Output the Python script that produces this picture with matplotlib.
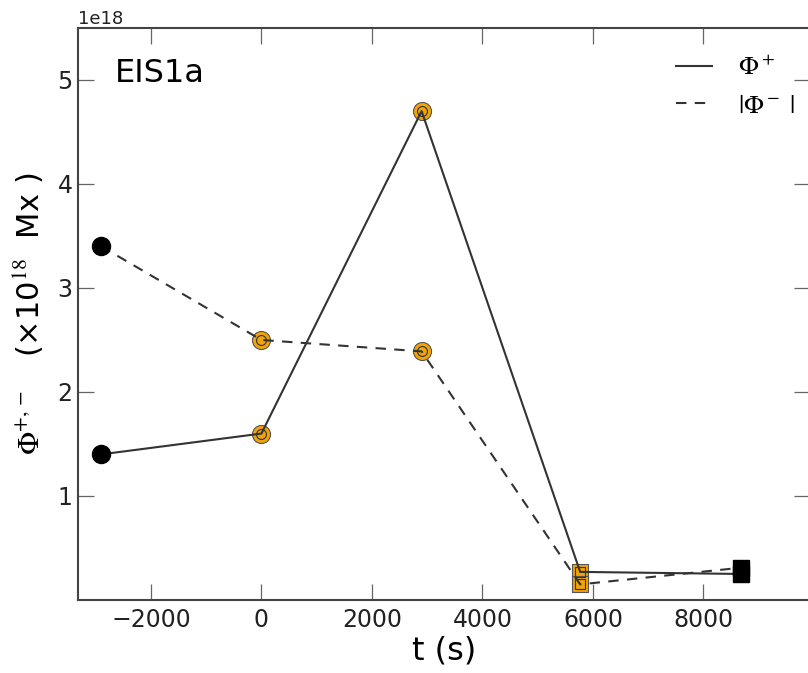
import matplotlib
matplotlib.use("Agg")
import matplotlib.pyplot as plt

# flux time series for EIS1a
t_sec = [-2900, 0, 2900, 5770, 8680]
phi_plus = [1.40e18, 1.60e18, 4.70e18, 0.27e18, 0.25e18]
phi_minus = [3.40e18, 2.50e18, 2.39e18, 0.15e18, 0.31e18]
point_marker = ["o", "o", "o", "s", "s"]
point_color = ["black", "#f0a30a", "#f0a30a", "#f0a30a", "black"]

plt.rcParams["mathtext.fontset"] = "stix"

fig = plt.figure(figsize=(8.08, 6.73), dpi=100)
ax = fig.add_axes([0.0965, 0.1085, 0.906, 0.85])

ax.plot(t_sec, phi_plus, "-", color="#333333", lw=1.5, zorder=3,
        label=r"$\Phi^+$")
ax.plot(t_sec, phi_minus, "--", color="#333333", lw=1.5, zorder=3,
        dashes=(5, 4), label=r"$|\Phi^-\ |$")

for x, yp, ym, mk, col in zip(t_sec, phi_plus, phi_minus,
                              point_marker, point_color):
    size = 13 if mk == "o" else 12
    if col == "black":
        ax.plot([x, x], [yp, ym], mk, ms=size, color="black",
                mec="black", ls="none", zorder=4)
    else:
        ax.plot([x, x], [yp, ym], mk, ms=size, color=col,
                mec="#555555", mew=0.8, ls="none", zorder=2)
        ax.plot([x, x], [yp, ym], mk, ms=size * 0.55, mfc="none",
                mec="#333333", mew=0.8, ls="none", zorder=4)

ax.set_xlim(-3320, 9930)
ax.set_ylim(0, 5.5e18)
ax.set_xticks([-2000, 0, 2000, 4000, 6000, 8000])
ax.set_yticks([1e18, 2e18, 3e18, 4e18, 5e18])

ax.tick_params(direction="in", length=11.5, width=0.9, color="#666666",
               labelsize=17, labelcolor="#222222", top=True, right=True)
ax.tick_params(axis="x", pad=6)
ax.tick_params(axis="y", pad=4)
ax.yaxis.get_offset_text().set_fontsize(13)
for sp in ax.spines.values():
    sp.set_color("#444444")
    sp.set_linewidth(1.5)

ax.set_xlabel("t (s)", fontsize=23, labelpad=2)
ax.set_ylabel(r"$\Phi^{+,-}$   (×10$^{18}$  Mx )", fontsize=22, labelpad=8)

ax.text(0.05, 0.906, "EIS1a", transform=ax.transAxes, fontsize=23,
        va="baseline", ha="left")

leg = ax.legend(loc="upper right", frameon=False, fontsize=19,
                handlelength=1.35, handletextpad=1.0, labelspacing=0.45,
                borderaxespad=0.4, bbox_to_anchor=(1.008, 0.99))

fig.savefig("out.png", dpi=100)
